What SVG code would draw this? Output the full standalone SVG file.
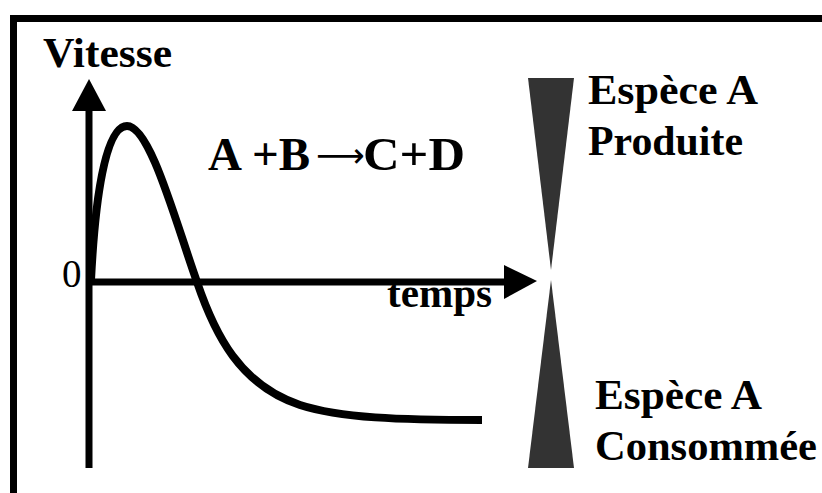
<svg xmlns="http://www.w3.org/2000/svg" width="822" height="493" viewBox="0 0 822 493">
  <style>
    .lbl { font-family: "Liberation Serif", "Times New Roman", serif; font-weight: bold; fill: #000; }
    .ax { stroke: #000; stroke-width: 7; fill: none; }
    .tri { fill: #333; }
  </style>
  <rect x="0" y="0" width="822" height="493" fill="#fff"/>
  <g id="frame">
    <rect x="13.5" y="18.5" width="900" height="600" fill="none" stroke="#000" stroke-width="7"/>
  </g>
  <g id="connectors">
    <line class="ax" x1="89" y1="468" x2="89" y2="108"/>
    <polygon points="89,79 106,111 72,111" fill="#000"/>
    <line class="ax" x1="86" y1="282" x2="506" y2="282"/>
    <polygon points="537,281 504,265 504,299" fill="#000"/>
    <path id="curve" d="M 91 280 C 95 200, 105 126, 127 126 C 150 126, 175 220, 197 282 C 215 335, 240 385, 300 405 C 340 418, 400 420, 482 420" fill="none" stroke="#000" stroke-width="8"/>
  </g>
  <g id="label-vitesse"><text class="lbl" x="43" y="67" font-size="42" textLength="129" lengthAdjust="spacingAndGlyphs">Vitesse</text></g>
  <g id="label-zero"><text x="62" y="287" font-family="Liberation Serif, serif" font-size="39" fill="#000">0</text></g>
  <g id="label-temps"><text class="lbl" x="387" y="307" font-size="40" textLength="105" lengthAdjust="spacingAndGlyphs">temps</text></g>
  <g id="label-reaction"><text class="lbl" y="170" font-size="47"><tspan x="208">A</tspan><tspan x="252">+B</tspan><tspan x="316" y="167" font-family="DejaVu Sans, sans-serif" font-weight="normal" font-size="34">⟶</tspan><tspan x="363" y="170" textLength="102" lengthAdjust="spacingAndGlyphs">C+D</tspan></text></g>
  <g id="produite">
    <polygon class="tri" points="528,78 574,78 551,270"/>
    <text class="lbl" x="588" y="104" font-size="42" textLength="170" lengthAdjust="spacingAndGlyphs">Espèce A</text>
    <text class="lbl" x="588" y="155" font-size="42" textLength="155" lengthAdjust="spacingAndGlyphs">Produite</text>
  </g>
  <g id="consommee">
    <polygon class="tri" points="551,280 574,468 528,468"/>
    <text class="lbl" x="595" y="409" font-size="42" textLength="167" lengthAdjust="spacingAndGlyphs">Espèce A</text>
    <text class="lbl" x="595" y="460" font-size="42" textLength="222" lengthAdjust="spacingAndGlyphs">Consommée</text>
  </g>
</svg>
